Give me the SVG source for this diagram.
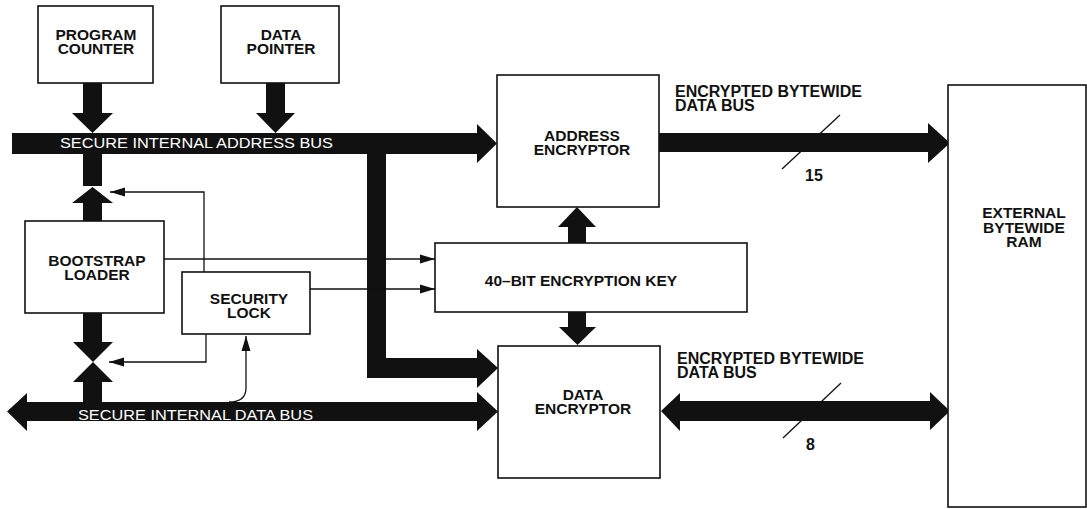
<svg xmlns="http://www.w3.org/2000/svg" width="1087" height="509" viewBox="0 0 1087 509">
<style>
.box{fill:#fff;stroke:#111;stroke-width:1.6}
.lbl{font-family:"Liberation Sans",Arial,Helvetica,sans-serif;font-weight:bold;font-size:15.5px;fill:#111;text-anchor:middle}
.lbl2{font-family:"Liberation Sans",Arial,Helvetica,sans-serif;font-weight:bold;font-size:16px;fill:#111}
.bus{fill:#111;stroke:none}
.buslbl{font-family:"Liberation Sans",Arial,Helvetica,sans-serif;font-size:15.5px;fill:#fff}
.thin{fill:none;stroke:#111;stroke-width:1.3}
</style>
<defs>
<marker id="ah" markerWidth="16" markerHeight="10" refX="15" refY="5" orient="auto" markerUnits="userSpaceOnUse">
<path d="M0,0.5 L15,5 L0,9.5 Z" fill="#111"/>
</marker>
</defs>
<rect width="1087" height="509" fill="#fff"/>

<g id="connectors">
<!-- program counter to address bus -->
<rect class="bus" x="83" y="83" width="19" height="31"/>
<polygon class="bus" points="72,113 113,113 92.5,133"/>
<!-- data pointer to address bus -->
<rect class="bus" x="266" y="83" width="19" height="31"/>
<polygon class="bus" points="256,113 295,113 275.5,133"/>
<!-- secure internal address bus -->
<rect class="bus" x="12" y="133" width="466" height="21"/>
<polygon class="bus" points="477,124 497,143.5 477,163"/>
<!-- stub below address bus and bootstrap up arrow -->
<rect class="bus" x="83" y="153" width="19" height="33"/>
<polygon class="bus" points="72,203 113,203 92.5,187"/>
<rect class="bus" x="83" y="202" width="19" height="20"/>
<!-- bootstrap down to data bus (bidirectional bowtie) -->
<rect class="bus" x="83" y="312" width="19" height="31"/>
<polygon class="bus" points="73,342 113,342 93,362"/>
<polygon class="bus" points="73,382 113,382 93,362"/>
<rect class="bus" x="83" y="381" width="19" height="22"/>
<!-- branch from address bus down to data encryptor -->
<rect class="bus" x="367" y="153" width="19" height="225"/>
<rect class="bus" x="367" y="358" width="111" height="20"/>
<polygon class="bus" points="477,349 498,368 477,388"/>
<!-- secure internal data bus -->
<rect class="bus" x="26" y="402" width="452" height="19"/>
<polygon class="bus" points="27,393 7,411.5 27,431"/>
<polygon class="bus" points="477,392 498,411.5 477,431"/>
<!-- key to address encryptor -->
<rect class="bus" x="568" y="226" width="18" height="18"/>
<polygon class="bus" points="558,227 596,227 577,207"/>
<!-- key to data encryptor -->
<rect class="bus" x="568" y="311" width="18" height="17"/>
<polygon class="bus" points="559,327 596,327 577.5,345"/>
<!-- address encryptor to external RAM -->
<rect class="bus" x="659" y="133" width="270" height="19"/>
<polygon class="bus" points="928,123 950,143 928,163"/>
<line class="thin" x1="840" y1="115" x2="782" y2="169" stroke-width="1.5"/>
<!-- data encryptor to external RAM (bidirectional) -->
<rect class="bus" x="679" y="401" width="252" height="20"/>
<polygon class="bus" points="680,393 661,411 680,431"/>
<polygon class="bus" points="930,392 950,411 930,430"/>
<line class="thin" x1="841" y1="383" x2="783" y2="438" stroke-width="1.5"/>
<!-- thin control lines -->
<polyline class="thin" points="204,272 204,192 110,192" marker-end="url(#ah)"/>
<polyline class="thin" points="206,334 206,362 109,362" marker-end="url(#ah)"/>
<line class="thin" x1="164" y1="259" x2="435" y2="259" marker-end="url(#ah)"/>
<line class="thin" x1="310" y1="289" x2="435" y2="289" marker-end="url(#ah)"/>
<path class="thin" d="M229,402 Q246,402 246,388 L246,336" marker-end="url(#ah)"/>
</g>

<g id="program-counter">
<rect class="box" x="38" y="6" width="115" height="77"/>
<text class="lbl" x="96" y="39.5">PROGRAM</text>
<text class="lbl" x="96" y="53.5">COUNTER</text>
</g>
<g id="data-pointer">
<rect class="box" x="221" y="6" width="118" height="77"/>
<text class="lbl" x="281" y="39.5">DATA</text>
<text class="lbl" x="281" y="53.5">POINTER</text>
</g>
<g id="bootstrap-loader">
<rect class="box" x="25" y="221" width="139" height="92"/>
<text class="lbl" x="97" y="266">BOOTSTRAP</text>
<text class="lbl" x="97" y="280">LOADER</text>
</g>
<g id="security-lock">
<rect class="box" x="182" y="272" width="128" height="62"/>
<text class="lbl" x="249" y="304">SECURITY</text>
<text class="lbl" x="249" y="318">LOCK</text>
</g>
<g id="address-encryptor">
<rect class="box" x="497" y="75" width="162" height="132"/>
<text class="lbl" x="582" y="141">ADDRESS</text>
<text class="lbl" x="582" y="155">ENCRYPTOR</text>
</g>
<g id="encryption-key">
<rect class="box" x="435" y="243" width="312" height="69"/>
<text class="lbl" x="581" y="286">40–BIT ENCRYPTION KEY</text>
</g>
<g id="data-encryptor">
<rect class="box" x="498" y="346" width="162" height="132"/>
<text class="lbl" x="583" y="400">DATA</text>
<text class="lbl" x="583" y="414">ENCRYPTOR</text>
</g>
<g id="external-ram">
<rect class="box" x="948" y="85" width="138" height="422"/>
<text class="lbl" x="1024" y="218">EXTERNAL</text>
<text class="lbl" x="1024" y="233">BYTEWIDE</text>
<text class="lbl" x="1024" y="247">RAM</text>
</g>

<g id="labels">
<text class="buslbl" x="60" y="147.5" textLength="273" lengthAdjust="spacingAndGlyphs">SECURE INTERNAL ADDRESS BUS</text>
<text class="buslbl" x="78" y="419.5" textLength="235" lengthAdjust="spacingAndGlyphs">SECURE INTERNAL DATA BUS</text>
<text class="lbl2" x="675" y="97">ENCRYPTED BYTEWIDE</text>
<text class="lbl2" x="675" y="111">DATA BUS</text>
<text class="lbl2" x="805" y="181" font-size="15">15</text>
<text class="lbl2" x="677" y="364">ENCRYPTED BYTEWIDE</text>
<text class="lbl2" x="677" y="378">DATA BUS</text>
<text class="lbl2" x="806" y="450" font-size="15">8</text>
</g>
</svg>
